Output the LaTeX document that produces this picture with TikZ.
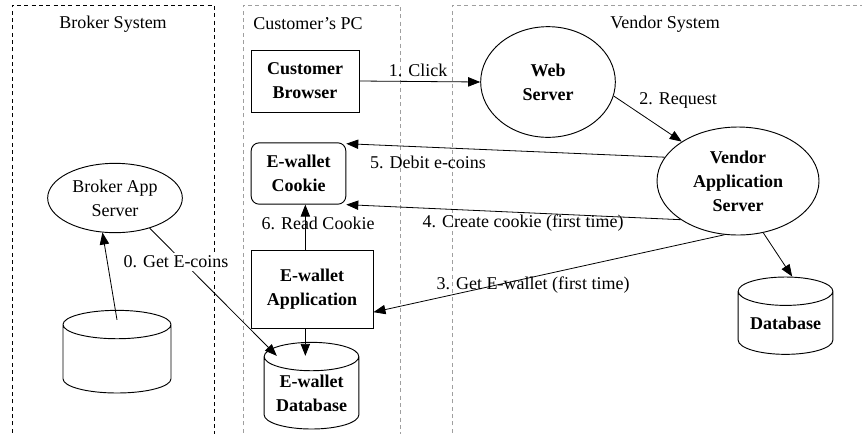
\documentclass[tikz,border=0pt]{standalone}
\usepackage{fontspec}
\setmainfont{Liberation Serif}
\usetikzlibrary{arrows.meta,shapes.geometric}

\begin{document}
\begin{tikzpicture}[x=0.75pt, y=-0.75pt,
  every node/.style={font=\fontsize{13.5}{18}\selectfont, align=center, inner sep=1pt},
  box/.style={rectangle, draw, line width=0.7pt, font=\fontsize{13.5}{18}\selectfont\bfseries},
  oval/.style={ellipse, draw, line width=0.7pt, inner sep=0pt},
  cyl/.style={cylinder, shape border rotate=90, aspect=0.4, draw, line width=0.7pt,
              inner sep=0pt, font=\fontsize{13.5}{18}\selectfont\bfseries},
  zone/.style={dash pattern=on 3pt off 2.5pt, line width=0.6pt},
  arr/.style={-{Triangle[length=9pt,width=7pt]}, line width=0.6pt}
]
  \clip (0,0) rectangle (862,433);

  % Systems
  \draw[zone] (12,440) -- (12,5) -- (214,5) -- (214,440);
  \draw[zone, gray!75] (243,440) -- (243,5) -- (400,5) -- (400,440);
  \draw[zone, gray!75] (452,440) -- (452,5) -- (870,5);
  \node (brokerlbl) at (113,24) {Broker System};
  \node (pclbl) at (308,24) {Customer’s PC};
  \node (vendorlbl) at (665,24) {Vendor System};

  \node[box, minimum width=81pt, minimum height=46.5pt] (browser) at (305,81) {Customer\\Browser};
  \node[box, rounded corners=6pt, minimum width=71pt, minimum height=46pt] (cookie) at (298.5,173.5) {E-wallet\\Cookie};
  \node[box, minimum width=91.5pt, minimum height=58pt] (app) at (312,289.5) {E-wallet\\Application};
  \node[oval, font=\fontsize{13.5}{18}\selectfont\bfseries, minimum width=101pt, minimum height=83pt] (web) at (548,82) {Web\\Server};
  \node[oval, font=\fontsize{13.5}{18}\selectfont\bfseries, minimum width=121.5pt, minimum height=81pt] (vas) at (738,181) {Vendor\\Application\\Server};
  \node[oval, minimum width=101pt, minimum height=52pt] (broker) at (115,198) {Broker App\\Server};
  \node[cyl, minimum width=81pt, minimum height=62pt] (bdb) at (117,359) {\phantom{Database}};
  \node[cyl, minimum width=71pt, minimum height=65pt] (edb) at (311.5,393) {E-wallet\\Database};
  \node[cyl, minimum width=71pt, minimum height=58pt] (vdb) at (785.5,323) {Database};

  % Messages
  \draw[arr] (browser.east) -- (web.west);
  \draw[arr] (web.-12) -- (vas.145);
  \draw[arr] (vas.162) -- ([yshift=-1pt]cookie.north east);
  \draw[arr] (vas.214) -- (cookie.south east);
  \draw[arr] (vas.256) -- ([yshift=-17pt]app.east);
  \draw[arr] (vas.-64) -- ([xshift=5pt]vdb.north);
  \coordinate (rd) at ([xshift=-5pt]app.north);
  \draw[arr] (rd) -- (rd |- cookie.south);
  \coordinate (wr) at ([xshift=-5pt]app.south);
  \coordinate (wrt) at (wr |- edb.north);
  \draw[arr] (wr) -- ([yshift=-10.5pt]wrt);
  \draw[arr] ([yshift=-7.5pt]bdb.north) -- (broker.250);
  \draw[arr] (broker.-41) -- ([xshift=-26pt,yshift=-10.5pt]edb.north);

  % Labels
  \node (l1) at (418,70) {1. Click};
  \node (l2) at (678,100) {2. Request};
  \node (l3) at (533,285) {3. Get E-wallet (first time)};
  \node (l4) at (523,223) {4. Create cookie (first time)};
  \node (l5) at (428,162) {5. Debit e-coins};
  \node (l6) at (318,223) {6. Read Cookie};
  \node[fill=white, inner sep=2pt] (l0) at (176,262) {0. Get E-coins};
\end{tikzpicture}
\end{document}
